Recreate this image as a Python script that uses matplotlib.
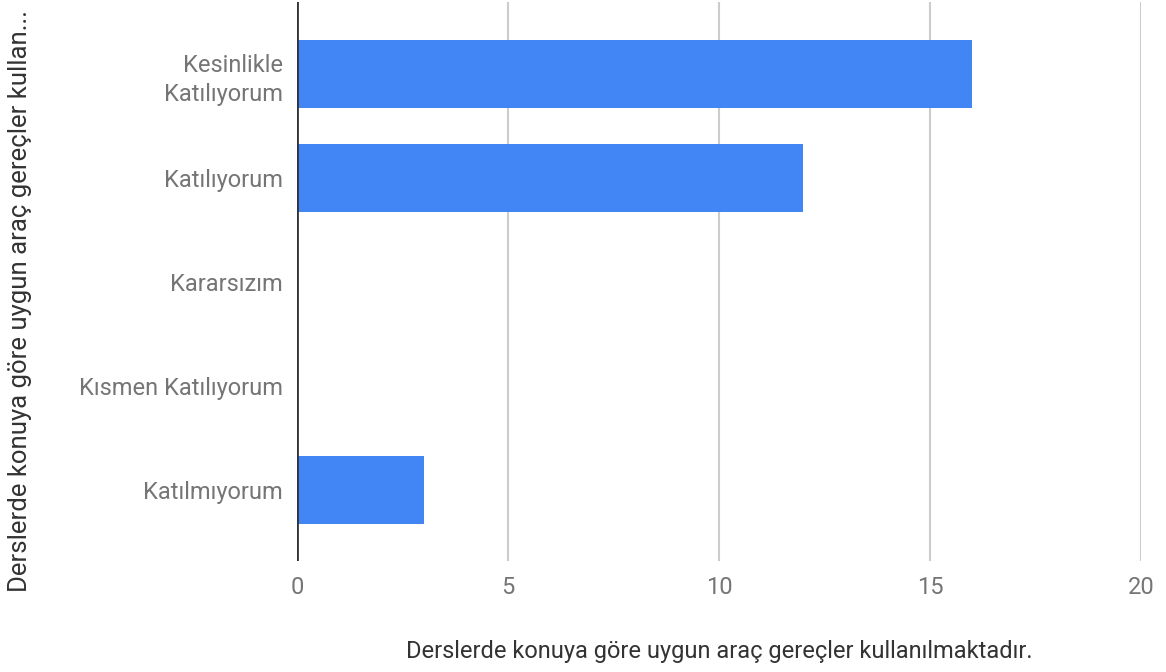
import matplotlib
matplotlib.use("Agg")
import matplotlib.pyplot as plt

categories = ["Kesinlikle\nKatılıyorum", "Katılıyorum", "Kararsızım", "Kısmen Katılıyorum", "Katılmıyorum"]
values = [16, 12, 0, 0, 3]
xticks = [0, 5, 10, 15, 20]
xlabel = "Derslerde konuya göre uygun araç gereçler kullanılmaktadır."
ylabel = "Derslerde konuya göre uygun araç gereçler kullan..."

plt.rcParams['font.family'] = ['Roboto', 'DejaVu Sans']

fig = plt.figure(figsize=(11.66, 6.72), dpi=100)
ax = fig.add_axes([297/1166, 1-561/672, (1141-297)/1166, (561-2)/672])

pos = list(range(len(categories)))
ax.barh(pos, values, height=0.654, color="#4285f4", zorder=3)
ax.set_xlim(0, 20)
ax.set_ylim(4.68, -0.692)
ax.set_xticks(xticks)
ax.set_xticklabels([str(t) for t in xticks])
ax.set_yticks(pos)
ax.set_yticklabels(categories, linespacing=1.35)

for s in ax.spines.values():
    s.set_visible(False)
ax.grid(axis='x', color="#cccccc", linewidth=1.5, zorder=0)
ax.axvline(0, color="#333333", linewidth=2, zorder=4)
ax.tick_params(axis='both', length=0, labelsize=17, labelcolor="#757575")
ax.tick_params(axis='y', pad=10)
ax.tick_params(axis='x', pad=11)

ax.set_xlabel(xlabel, fontsize=17, color="#333333", labelpad=29)
fig.text(20/1166, 1-301/672, ylabel, rotation=90, fontsize=18.5, color="#333333",
         ha='center', va='center')

fig.savefig("out.png", dpi=100)
